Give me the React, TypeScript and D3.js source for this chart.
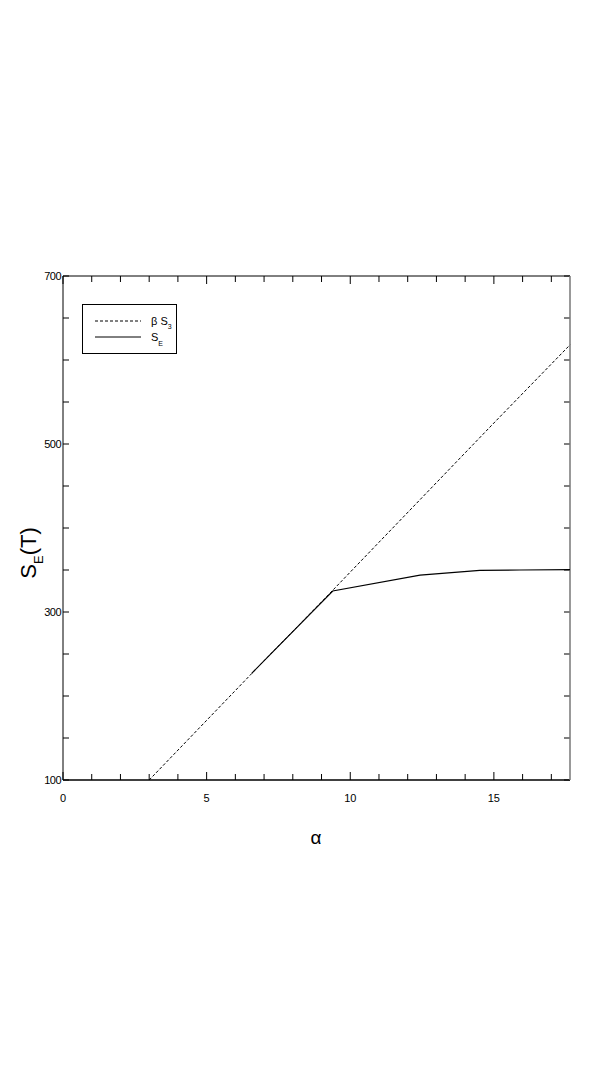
import React, { useEffect, useRef } from "react";
import * as d3 from "d3";

// beta*S3 (dashed) and S_E (solid) vs alpha
const alphaBetaS3 = [3, 5, 7, 9, 11, 13, 15, 17.65];
const betaS3 = [100, 171, 242, 312, 383, 454, 525, 618];
const alphaSE = [6.57, 9.39, 12.43, 14.51, 15.9, 17.65];
const SE = [227, 325, 344, 349.5, 350, 350.5];
const xTickLabels = [0, 5, 10, 15];
const yTickLabels = [100, 300, 500, 700];

export default function App() {
  const ref = useRef<SVGSVGElement>(null);

  useEffect(() => {
    const svg = d3.select(ref.current);
    svg.selectAll("*").remove();

    const left = 63, right = 570, top = 276, bottom = 780;
    const x = d3.scaleLinear().domain([0, 17.65]).range([left, right]);
    const y = d3.scaleLinear().domain([100, 700]).range([bottom, top]);
    const font = "'Liberation Sans', Arial, sans-serif";

    const g = svg.append("g");

    // ticks (inward, on all four sides)
    const xMinor = d3.range(0, 18, 1);
    xMinor.forEach(v => {
      const len = v % 5 === 0 ? 8 : 6;
      g.append("line").attr("x1", x(v)).attr("x2", x(v)).attr("y1", bottom).attr("y2", bottom - len).attr("stroke", "#000");
      g.append("line").attr("x1", x(v)).attr("x2", x(v)).attr("y1", top).attr("y2", top + len).attr("stroke", "#000");
    });
    const yMinor = d3.range(100, 701, 50);
    yMinor.forEach(v => {
      g.append("line").attr("x1", left).attr("x2", left + 6).attr("y1", y(v)).attr("y2", y(v)).attr("stroke", "#000");
      g.append("line").attr("x1", right).attr("x2", right - 6).attr("y1", y(v)).attr("y2", y(v)).attr("stroke", "#000");
    });

    // frame
    g.append("line").attr("x1", left).attr("x2", right).attr("y1", top).attr("y2", top).attr("stroke", "#000");
    g.append("line").attr("x1", left).attr("x2", right).attr("y1", bottom).attr("y2", bottom).attr("stroke", "#000").attr("stroke-width", 1.5);
    g.append("line").attr("x1", left).attr("x2", left).attr("y1", top).attr("y2", bottom).attr("stroke", "#000");
    g.append("line").attr("x1", right).attr("x2", right).attr("y1", top).attr("y2", bottom).attr("stroke", "#777").attr("stroke-width", 1.5);

    g.selectAll(".xl").data(xTickLabels).join("text").attr("class", "xl")
      .attr("x", d => x(d)).attr("y", bottom + 22).attr("text-anchor", "middle")
      .style("font-family", font).style("font-size", "11px").text(d => d);
    g.selectAll(".yl").data(yTickLabels).join("text").attr("class", "yl")
      .attr("x", left - 2).attr("y", d => y(d) + 4).attr("text-anchor", "end")
      .style("font-family", font).style("font-size", "11px").style("letter-spacing", "-0.5px").text(d => d);

    // series
    const line = d3.line<number>();
    g.append("path")
      .attr("d", line(alphaBetaS3.map((a, i) => [x(a), y(betaS3[i])]) as any))
      .attr("fill", "none").attr("stroke", "#000").attr("stroke-width", 1).attr("stroke-dasharray", "3,2");
    g.append("path")
      .attr("d", line(alphaSE.map((a, i) => [x(a), y(SE[i])]) as any))
      .attr("fill", "none").attr("stroke", "#000").attr("stroke-width", 1.2);

    // legend
    g.append("rect").attr("x", 82.5).attr("y", 304.5).attr("width", 94).attr("height", 49)
      .attr("fill", "#fff").attr("stroke", "#000");
    g.append("line").attr("x1", 95).attr("x2", 141).attr("y1", 321).attr("y2", 321)
      .attr("stroke", "#000").attr("stroke-dasharray", "3,2");
    g.append("line").attr("x1", 95).attr("x2", 141).attr("y1", 337).attr("y2", 337).attr("stroke", "#000");
    const t1 = g.append("text").attr("x", 151).attr("y", 325).style("font-family", font).style("font-size", "11px");
    t1.append("tspan").text("β S");
    t1.append("tspan").attr("dy", 4).style("font-size", "7px").text("3");
    const t2 = g.append("text").attr("x", 151).attr("y", 341).style("font-family", font).style("font-size", "11px");
    t2.append("tspan").text("S");
    t2.append("tspan").attr("dy", 5).style("font-size", "7px").text("E");

    // axis titles
    g.append("text").attr("x", 316).attr("y", 844).attr("text-anchor", "middle")
      .style("font-family", font).style("font-size", "19px").text("α");
    const yt = g.append("text").attr("transform", "translate(36,553) rotate(-90)").attr("text-anchor", "middle")
      .style("font-family", font).style("font-size", "22px");
    yt.append("tspan").text("S");
    yt.append("tspan").attr("dy", 7).style("font-size", "13px").text("E");
    yt.append("tspan").attr("dy", -7).text("(T)");
  }, []);

  return (
    <svg ref={ref} width={598} height={1078}
      style={{ position: "absolute", left: 0, top: 0, background: "#fff" }} />
  );
}
